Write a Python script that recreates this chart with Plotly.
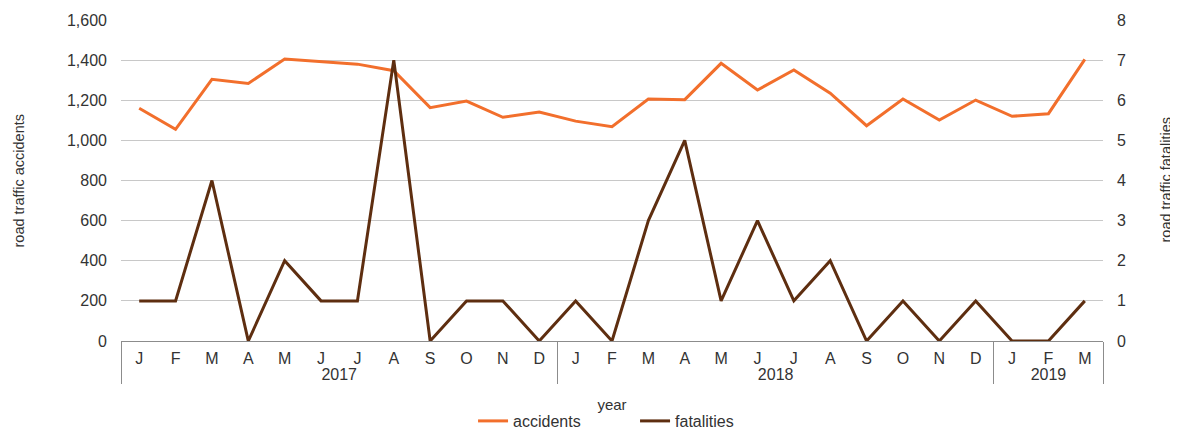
import plotly.graph_objects as go

years = ["2017"] * 12 + ["2018"] * 12 + ["2019"] * 3
months = ["J", "F", "M", "A", "M", "J", "J", "A", "S", "O", "N", "D"] * 2 + ["J", "F", "M"]

accidents = [1160, 1055, 1304, 1284, 1405, 1392, 1380, 1347, 1163, 1196, 1115, 1141,
             1096, 1068, 1206, 1203, 1384, 1251, 1351, 1235, 1073, 1206, 1101, 1201,
             1120, 1133, 1404]
fatalities = [1, 1, 4, 0, 2, 1, 1, 7, 0, 1, 1, 0,
              1, 0, 3, 5, 1, 3, 1, 2, 0, 1, 0, 1,
              0, 0, 1]

left_ticks = [0, 200, 400, 600, 800, 1000, 1200, 1400, 1600]
right_ticks = [0, 1, 2, 3, 4, 5, 6, 7, 8]

# make repeated month initials unique categories (zero-width suffix, invisible)
seen = {}
month_cats = []
for y, m in zip(years, months):
    key = (y, m)
    seen[key] = seen.get(key, 0) + 1
    month_cats.append(m + "\u200b" * (seen[key] - 1))

ORANGE = "#F26F2C"
BROWN = "#5E2E10"
FONT = "Liberation Sans, Arial, sans-serif"
TXT = "#333333"
AXC = "#8C8C8C"

fig = go.Figure()
fig.add_trace(go.Scatter(x=[years, month_cats], y=accidents, name="accidents",
                         mode="lines", line=dict(color=ORANGE, width=3)))
fig.add_trace(go.Scatter(x=[years, month_cats], y=fatalities, name="fatalities",
                         mode="lines", line=dict(color=BROWN, width=3), yaxis="y2"))

# the page body adds an 8px offset, so the figure is 8px smaller and margins shifted
fig.update_layout(
    width=1170, height=430,
    margin=dict(l=113, r=75, t=12, b=97),
    paper_bgcolor="white", plot_bgcolor="white",
    font=dict(family=FONT, size=16, color=TXT),
    xaxis=dict(
        type="multicategory",
        range=[-0.5, len(months) - 0.5],
        showline=True, linecolor=AXC, linewidth=1, mirror=False,
        showgrid=False, ticks="", showdividers=True,
        dividercolor=AXC, dividerwidth=1,
        tickfont=dict(size=16, color=TXT), ticklabelstandoff=3,
        title=dict(text="year", font=dict(size=15), standoff=17),
        automargin=False,
    ),
    yaxis=dict(
        range=[0, 1600], tickvals=left_ticks, tickformat=",",
        showgrid=True, gridcolor="#C8C8C8", gridwidth=1,
        zeroline=False, ticks="", showline=False, ticklabelstandoff=13,
        tickfont=dict(size=16, color=TXT),
        automargin=False,
    ),
    yaxis2=dict(
        range=[0, 8], tickvals=right_ticks, overlaying="y", side="right",
        showgrid=False, zeroline=False, ticks="", ticklabelstandoff=13,
        tickfont=dict(size=16, color=TXT),
        automargin=False,
    ),
    legend=dict(orientation="h", x=0.3585, xanchor="left",
                yref="container", y=-0.04, yanchor="bottom",
                font=dict(size=16), itemwidth=30, tracegroupgap=0,
                entrywidth=117, entrywidthmode="pixels"),
    showlegend=True,
    annotations=[
        dict(text="road traffic accidents", xref="paper", yref="paper",
             x=0, y=0.5, xshift=-103, xanchor="center", yanchor="middle",
             textangle=-90, showarrow=False, font=dict(size=14.5, color=TXT)),
        dict(text="road traffic fatalities", xref="paper", yref="paper",
             x=1, y=0.5, xshift=62, xanchor="center", yanchor="middle",
             textangle=-90, showarrow=False, font=dict(size=14.5, color=TXT)),
    ],
)

fig.write_html("out.html")
